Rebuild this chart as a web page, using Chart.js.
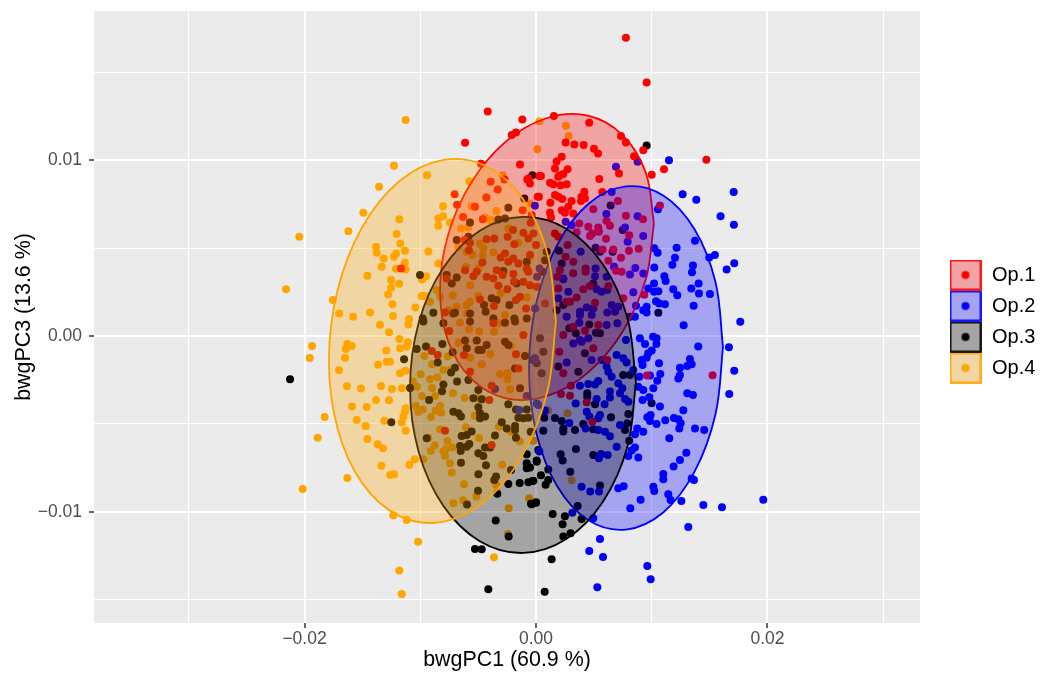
<!DOCTYPE html>
<html>
<head>
<meta charset="utf-8">
<title>bwgPCA</title>
<style>
  html, body { margin: 0; padding: 0; background: #fff; }
  canvas { display: block; }
</style>
<script src="https://cdn.jsdelivr.net/npm/chart.js@4"></script>
</head>
<body>
<canvas id="pca" width="1040" height="675"></canvas>
<script>
const UNIT = 1e-4;

const groupNames = ['Op.1', 'Op.2', 'Op.3', 'Op.4'];
const groupColors = ['#ff0000', '#0000ff', '#000000', '#ffa500'];
const groupFills = ['rgba(255,0,0,0.3)', 'rgba(0,0,255,0.3)', 'rgba(0,0,0,0.3)', 'rgba(255,165,0,0.3)'];
// which group sits on top of which among the dots: red over blue over black over orange
const pointOrder = [20, 21, 22, 23];

const xTickValues = [-0.03, -0.02, -0.01, 0, 0.01, 0.02, 0.03];
const xTickLabels = ['', '\u22120.02', '', '0.00', '', '0.02', ''];
const yTickValues = [-0.015, -0.01, -0.005, 0, 0.005, 0.01, 0.015];
const yTickLabels = ['', '\u22120.01', '', '0.00', '', '0.01', ''];

const op1Points = [
  [-116.6,38.4],[-41.7,127.6],[-11.8,123.1],[-17.3,115.7],[-21,114.3],[-61.3,109.8],[-47.5,97.9],[-13.8,97.5],[-6.6,89.5],[-5.2,86.7],
  [-7.5,89],[2.9,90.9],[1.5,79.1],[-39.2,87.6],[-33.1,83.3],[-27.3,89],[-42.9,78.7],[-70.3,80.6],[-68.2,74.6],[-52.7,73.4],
  [-63,67.6],[-46,66.4],[-11.5,71.4],[-3.7,68.7],[-4.6,64.3],[-42.6,55],[-36,55.4],[-19.8,60.2],[-24.5,56.4],[-10.9,58.7],
  [-6.6,55.4],[-2.3,58.3],[-18.7,52.2],[0,51.7],[-57.9,48.8],[-61.9,54.5],[-57,53],[-26.8,46.9],[-30.5,44.6],[-19.6,44.1],
  [-23.9,42.2],[-15.2,41.2],[-46.3,41.8],[-5.2,46],[-8,38.4],[-6.6,36.5],[-34,37.4],[-28.8,34.6],[-42.6,33.7],[-36.8,32.7],
  [-19.6,35.2],[-19,30.8],[-10.9,30.8],[-5.2,28.9],[-32.5,28.5],[-24.7,26.6],[0.6,28],[-61.3,37.4],[-54.1,34],[-51.2,36.5],
  [-77.2,32.7],[-48.4,20.8],[-36.3,17],[-17.3,20.4],[-8.6,15.7],[-78.6,13.4],[-13.8,22.3],[77.7,169.5],[95.6,144.1],[15.5,125],
  [46,121.2],[73.4,113.6],[77.7,110],[25.6,110],[33.1,108.9],[41.2,108.5],[50.1,106.4],[53.6,103.7],[92.7,105.6],[84.7,102.2],
  [22.2,101.8],[17.8,99.2],[147.2,100.1],[110.6,94.8],[27.3,94.8],[16.4,95.2],[71.7,92.4],[100,91.6],[4.3,90.9],[20.7,91.4],
  [23.6,92],[19.3,90.5],[54.7,89.2],[12.1,87.1],[15,86.3],[21.3,85.7],[26.5,86.3],[2.6,79.1],[57.3,81.9],[16.4,80.1],
  [19.3,79.1],[22.7,77.8],[41.8,82],[39.4,79.1],[42.3,78.2],[38.9,76.7],[30.8,76.7],[27.9,73.4],[22.2,71.5],[32.2,69.6],
  [25,70],[12.4,75.7],[12.1,70],[13,67.4],[70.8,76.7],[107.1,74.2],[49.5,72.1],[77.7,68.3],[92.4,66.4],[37.4,64],
  [45.2,62.1],[53.8,61.7],[54.4,59.2],[46.6,56.8],[48.7,58.3],[61,65.3],[63.9,62.6],[35.1,58.9],[80.6,57.3],[60.5,55.3],
  [27.3,51.7],[57.6,49.2],[66.8,49.2],[80.3,48.4],[88.7,49.6],[25.6,45],[16.4,58.3],[19.3,56.4],[73.4,44.5],[62.5,42.8],
  [32.2,42.2],[69.1,37.1],[74,36.5],[42.9,38.4],[42.9,36.5],[20.7,37.4],[32.2,35.6],[18.4,33.7],[40.9,26.5],[46.6,28.4],
  [62.5,28.4],[35.1,21.9],[26.5,19.5],[29.4,19.5],[51,18.9],[75.4,21.4],[93.6,23.4],[19.3,27],[7.8,18.5],[95.9,-22.5],
  [152.6,-22.3],[61.6,-13.6],[43.8,-37.7],[48.7,-48.7],[29.4,-33.9],[21.6,-32.9],[30.2,-28.2],[23.6,-21.2],[23.6,0.6],[42.3,3],
  [53.8,6.3],[49.5,-7],[32.2,5.3],[20.1,-8.9],[-78.6,-53.8],[-38.3,-61.9],[-40.3,-36.4],[-38.3,-28.2],[-15.2,-18.4],[-17.3,-10.4],
  [-57,-20.3],[-62.2,-10.8],[-74.9,2.8],[-90.1,-8.5],[-84.9,-10.8],[-10.9,0.6],[-36.8,7.2]
];

const op2Points = [
  [114.9,99.9],[126.7,80.6],[138.5,77.4],[170.8,81.8],[105.4,72.1],[159.5,68.1],[171,63.2],[137.4,54.1],[121.5,50.1],[102.2,49.8],
  [105.1,47.3],[120.1,44.5],[117.8,40.5],[149.7,44.6],[154.6,46],[171.3,41.4],[164.7,37.8],[135.6,40.1],[134.8,36.3],[102.2,39],
  [110.9,34],[112,31.2],[140.5,29.9],[134.2,27],[102,29.9],[97,27],[102,25.1],[105.7,25.5],[118.6,26.5],[122.1,23.2],
  [140.8,24.2],[150.3,23.8],[103.7,19.8],[106.5,18.5],[111.4,18.1],[136.2,17.2],[86.4,17.2],[92.7,14.7],[95.6,16.6],[95.6,13.4],
  [85.5,10.9],[176.5,8.1],[69.1,96.2],[87.8,99],[65.4,81.9],[-0.9,74],[60.8,69.3],[87.8,68.1],[25.6,64.9],[30.8,63],
  [76.9,61.7],[92.7,56.9],[79.2,53.5],[38.6,47.9],[67.4,39.3],[85.8,38.6],[81.2,35],[92.7,35.5],[51.5,38.4],[51,34],
  [61,33.7],[23.6,32.7],[52.4,26.5],[56.7,25.1],[61.6,26.1],[27.9,25.1],[84.1,24.8],[19.3,21.4],[38,13.8],[43.8,16.2],
  [49.5,15.7],[38,11.9],[65.4,17.6],[61.6,13.4],[68.2,13.8],[71.1,16.6],[26.5,10.9],[48.1,11.9],[127.6,6.1],[140.2,-5.9],
  [166.7,-6.4],[101.1,-0.4],[104.2,-1.3],[104,-4.5],[94.2,-4.5],[89.8,-1.3],[100,-8.3],[97,-9.8],[95.6,-12.3],[106.3,-15.5],
  [92.1,-16.5],[91.3,-13.6],[133,-13],[134.5,-16.1],[130.7,-17],[124.4,-18],[171.3,-19.7],[107.4,-21.6],[104.8,-25.4],[124.4,-22.1],
  [123,-24.2],[89.3,-23.1],[98.5,-22.5],[101.4,-29.7],[88.4,-28.8],[92.7,-30.7],[130.7,-32.6],[135.6,-33.5],[167,-33],[92.1,-36.4],
  [97.9,-34.8],[107.1,-40],[127.3,-42.2],[96.2,-46.2],[99,-44.9],[98.5,-48.3],[104.2,-50],[111.7,-47.9],[119.2,-46.6],[123,-47.3],
  [125,-49.6],[123.8,-52.5],[137.4,-52.5],[145.4,-53.4],[115.2,-58.1],[92.7,-54.4],[87.5,-52.5],[85.5,-55.9],[85.5,-63.3],[82.6,-65.1],
  [79.8,-68.2],[88.4,-69.1],[129.9,-66.3],[124.4,-70.4],[118.9,-74.2],[110,-78.4],[110,-81.4],[134.5,-81],[136.5,-81.8],[101.4,-85.6],
  [102.2,-88.1],[114.3,-90],[116.3,-93.2],[125.6,-93.7],[90.4,-93],[81.5,-97.9],[71.1,-86.5],[75.7,-85.4],[144.6,-96],[160.7,-97.3],
  [196.4,-93],[131.6,-108.5],[49.5,-103.6],[31.4,-100.4],[55.3,-115.3],[46,-122.2],[57.9,-125.6],[96.2,-130.7],[99.1,-138.2],[53,-142.8],
  [39.4,-85.6],[46.9,-88.3],[54.4,-88.3],[69.7,-62.9],[61.9,-67.6],[54.4,-69.5],[56.1,-67],[63.9,-57],[59.6,-54.4],[53.8,-53.4],
  [42.9,-52.5],[72.6,-50.6],[28.8,-49.4],[55.3,-44.9],[53.8,-46.8],[43.8,-43],[46.1,-45.8],[59.3,-38.8],[52.4,-35.8],[34.3,-38.3],
  [7.8,-42.4],[38,-28.2],[45.2,-27.3],[51,-27.5],[53.8,-25.6],[63.9,-31.6],[63.9,-35],[72.6,-32.6],[74.6,-29.7],[76.9,-35.8],
  [79.8,-37.3],[71.1,-26.9],[61,-17.4],[62.5,-20.3],[65.4,-23.1],[69.7,-10.8],[75.4,-12.7],[78.3,-15],[77.7,-2.3],[84.1,-19.3],
  [2.9,-65.7],[38,-2.3],[32.2,-4.2],[26.5,-15],[45.2,-1.3],[48.1,-13.6],[56.7,-13.6],[61,6.3],[70.3,7.2],[37.4,7.6],
  [39.4,-3.2],[2,-39.2],[-35.4,-30.1],[-8,-34.1],[0.6,-38.3],[-0.8,-13.2],[1,33.7],[3.1,38.4],[-0.8,15.7],[-14.4,-42]
];

const op3Points = [
  [-57,64.5],[-68.5,54.5],[-58.4,56.4],[-23.9,72.9],[-26.8,66.8],[-32.5,66.2],[-3.1,91.4],[-10.1,78.2],[-100.2,34.6],[-77.2,34.6],
  [-68.5,33.3],[-72.8,29.9],[-28.2,37],[-8,42.2],[-16.7,29.9],[-38.3,21.4],[-34,20.4],[-44.9,17.6],[-43.5,13.8],[-23,17.6],
  [-71.4,12.8],[-70,13.2],[-57,12.8],[-88.7,13.2],[-97.9,10],[-36.8,10],[-18.7,10],[-8,10],[95.6,108.3],[64.5,74.2],
  [74.9,60.2],[51.5,50.1],[55.3,47.9],[66.2,47.9],[19.9,48.4],[22.2,41.2],[9.2,47.9],[7.8,43.1],[23.6,32.2],[49.5,29.9],
  [23.6,17.6],[17.8,14.7],[105.7,13.2],[81.2,10.9],[5.7,36.5],[-212.5,-24.6],[-114,-13.2],[-108.8,-29.5],[-125,-49],[-95,-6],
  [-103,-7.4],[-84.9,-15.1],[-80.9,-4.5],[-72,-9.3],[-70,-18],[-73.4,-20.8],[-80,-27.5],[-81.2,-31.4],[-68.2,-25.9],[-92.4,-36.4],
  [-58.4,-25],[-49.8,-30.7],[-46.9,-36],[-54.1,-35.4],[-49.8,-40.5],[-48.4,-43.9],[-71.4,-43],[-67,-43.9],[-64.8,-45.8],[-44,-45.8],
  [-48.4,-46.8],[-23.9,-38.8],[-17.3,-41.7],[-8,-41.7],[-6.6,-46.4],[-15.2,-46.4],[-10.9,-46.8],[-29.6,-49],[-18.1,-51.1],[-25.3,-52.5],
  [-18.1,-53.4],[-4.6,-54.4],[-35.4,-56.6],[-17.3,-57.8],[-64.2,-56.8],[-59.9,-56.2],[-55.6,-54.3],[-94.4,-58.1],[-65.6,-62.5],[-57.6,-61.4],
  [-65.1,-65.3],[-59.9,-62.9],[-44,-63.4],[-39.7,-63.4],[-49.8,-66.7],[-45.5,-68.2],[-64.8,-72],[-43.2,-73.5],[-49.8,-78.6],[-34.5,-79.9],
  [-36,-81.8],[-21.6,-76.1],[-50.1,-87.9],[-59.6,-95.8],[2,-64.8],[-8,-67.2],[-8,-72.3],[-8,-75.2],[0.6,-71.4],[-23.9,-84.1],
  [-14.1,-83.5],[-6.6,-83.1],[-2.3,-82.2],[-33.4,-89.6],[-3.7,-95.6],[0,-94.5],[-34.8,-104.9],[-23.6,-114],[-52.7,-121],[-46.9,-121.2],
  [-41.2,-143.9],[-51.2,-2.6],[-42.6,-5.1],[-46.9,-7.9],[-61.3,-2.6],[-59.9,-7],[-49.8,-7.9],[-26.8,-3.2],[-23.9,-5.1],[-9.5,-11.4],
  [-18.1,-18.4],[-2.3,-13.6],[-13.8,-29.7],[-57,8.2],[-26.8,7.6],[-18.1,8.2],[-97.3,8.2],[-80,7.2],[6.3,-53.8],[7.2,-46.4],
  [16.4,-46.6],[22.2,-48.3],[23.6,-54.3],[23.6,-52.5],[33.7,-53.4],[40.9,-50],[49.5,-53],[64.8,-46.2],[51,-38.8],[44.3,-32.6],
  [44.3,-34.5],[79.8,-44.3],[78.9,-49.6],[76.9,-53.4],[99.9,-38.2],[75.4,-22.2],[81.2,-22.2],[80.6,-59.5],[34.5,-64.2],[21.3,-67.2],
  [23,-70.8],[49.5,-67.6],[29.6,-77.1],[55.3,-85],[36,-96.6],[14.4,-101.1],[25,-102.5],[23,-107],[39.4,-104],[29.9,-112.1],
  [23.6,-114],[13.5,-126.9],[7.5,-145.3],[10.6,-75.8],[4.3,-79.2],[8.3,-84.6],[10.6,-81.8],[0.6,-70.8],[-5.2,-74.8],[-2.9,-82.4],
  [0,-94.7],[-4.3,-95.4],[28.8,4.4],[46,6.5],[55.3,1.5],[51.8,1.9],[34.5,1.5],[42.3,-9.8],[36.6,-20.3],[19.3,-17.4],
  [0.6,-15.5],[4.9,-21.2],[6.3,-8.9],[-0.9,-12.7],[3.4,-1.3]
];

const op4Points = [
  [-112.6,122.7],[-122.7,96.7],[-135.6,84.8],[-94.2,91.4],[-149.2,70],[-162.1,59.6],[-204.5,56.4],[-216,26.6],[-175.6,20.4],[-170,12.8],
  [-158,10.9],[-143.4,13.4],[-123.5,11.3],[-109.7,9.6],[-104.2,16.2],[-124,18.1],[-127.8,23.6],[-125.2,27.4],[-125.2,31.8],[-118.3,29.7],
  [-145.7,34.2],[-133.3,39.3],[-131.6,44.1],[-138.2,50.7],[-137.6,47.3],[-122.7,45],[-120.9,46.9],[-113.2,48.4],[-117.2,52.6],[-120.4,57.9],
  [-118.1,66.4],[-121,38.2],[-113.2,41.8],[-112.6,37.8],[-93,48],[-84.4,41.2],[-95,34],[-98.5,32.1],[-98.8,22.7],[-95.9,22.7],
  [-80.3,73.8],[-80.3,68.1],[-84.4,66.8],[-84.4,62.6],[-74.3,64.5],[-57.6,88],[-64.8,61.1],[-58.4,61.7],[-55.8,73.8],[-44,67.4],
  [-39.2,65.9],[-34.2,71],[-28.8,91.4],[1.2,106.2],[3,122.1],[-193.5,-5.7],[-195.5,-12.5],[-163,-4.5],[-159.2,-5.7],[-164.4,-7.4],
  [-165,-12.3],[-170.2,-19.5],[-163.3,-28.6],[-151.2,-29.9],[-133.9,-28.4],[-124.4,-30.1],[-115.8,-29.7],[-138.2,-36.4],[-127,-36.5],[-159,-40],
  [-146.3,-40.3],[-182.6,-46],[-154.9,-47.7],[-147.1,-51.1],[-131,-48.1],[-112.6,-41.1],[-113.2,-43],[-114.6,-45.8],[-116,-49.2],[-112.6,-53.8],
  [-188.6,-57.8],[-145.7,-58.5],[-136.8,-61.5],[-132.2,-63.8],[-133.6,-73.7],[-126,-79],[-122.7,-78.6],[-109.4,-73.1],[-104.8,-70.1],[-97.3,-70.1],
  [-163,-80.7],[-201.6,-86.9],[-123.3,-101.9],[-111.7,-104.5],[-101.9,-116.9],[-118.1,-133.3],[-116,-146.6],[-36.3,-125.8],[-127,2.1],[-134.8,6.4],
  [-129.3,-8.3],[-118,-1.7],[-110.6,-3.6],[-111.7,-6],[-117.5,-7],[-110.3,6.5],[-136.5,-16.3],[-129,-14.6],[-126.1,-14.6],[-117.5,-21.2],
  [-112.6,-19.7],[-96.5,-11.4],[-89.8,-16.1],[-99.6,-21.8],[-91.6,-24.6],[-85.2,-23.5],[-80,-19.3],[-74.3,-19.3],[-76.3,-11.7],[-89.8,-29.5],
  [-102.8,-28.8],[-106.5,-25.9],[-98.5,-34.1],[-87.2,-34.1],[-71.7,-32.6],[-61.6,-35.2],[-103.7,-39.8],[-101.6,-43],[-97.9,-41.7],[-90.7,-46],
  [-86.7,-42.4],[-82.9,-39.8],[-82,-43.5],[-53,-45.3],[-82.9,-53],[-60.5,-51.9],[-49.2,-57.9],[-93,-57.9],[-87.5,-62.1],[-91,-65.3],
  [-76.6,-59.7],[-72.2,-63.3],[-80,-65.7],[-78,-64.4],[-78.6,-68.2],[-74.3,-72.3],[-72.8,-77.6],[-62.2,-84.3],[-51.5,-91.3],[-62.8,-93.4],
  [-71.4,-95.1],[-29.1,-73.1],[-34,-85],[-32,-51.5],[-21.6,-54.3],[-14,-59.8],[-6,-92.2],[-23.6,-97.9],[-24.2,-112.5],[-65.6,7.6],
  [-57.9,3.8],[-66.8,-3.8],[-57,-12.3],[-46.9,-16.1],[-39.7,-10.2],[-31.1,-21.6],[-24.7,-21.2],[-24.7,-24.6],[-22.4,-30.3],[-36.3,2.5],
  [-48.9,2.5],[-31.7,7.2],[-21.9,-5.7],[-49.8,-35.4],[-46.6,-35.8],[-49.8,38.4],[-60.5,39.3],[-57,28.9],[-36.8,47.5],[-45.5,49.8],
  [-48.4,52.6],[-55,46],[-46,45.6],[-67,50.7],[-59.9,47.9],[-72,23.2],[-85.8,26.1],[-82.9,22.3],[-91.6,19.5],[-68.5,16.6],
  [-75.7,14.7],[-59.9,17.6],[-57,19.5],[-49.8,22.7],[-30.5,24.2],[-8,21.9],[-26.8,11.9],[-23.9,61.1],[-15.2,53],[-59.9,12.8],
  [25.9,119.5],[28.2,113.6],[-5.2,75.3],[27.3,-43.9],[30.8,-82],[10.6,-42.4],[-2.3,-59.5]
];

// ellipse outlines traced by eye, going round anticlockwise from the right side
const op1Outline = [
  [101.9,63.9],[94.9,92.8],[74.8,114.2],[44.9,125.2],[9.5,123.9],[-25.9,110.6],[-55.8,87.4],[-75.9,57.6],
  [-82.9,25.9],[-75.9,-3],[-55.8,-24.4],[-25.9,-35.4],[9.5,-34.1],[44.9,-20.8],[74.8,2.4],[94.9,32.2],[101.9,63.9]
];
const op2Outline = [
  [161.6,-6.4],[155.2,30.4],[137,60.7],[109.9,79.9],[77.8,85],[45.7,75.3],[18.6,52.1],[0.4,19.2],
  [-6,-18.6],[0.4,-55.4],[18.6,-85.7],[45.7,-104.9],[77.8,-110],[109.9,-100.3],[137,-77.1],[155.2,-44.2],[161.6,-6.4]
];
const op3Outline = [
  [86.4,-26.3],[79,10.2],[57.8,40.8],[26.2,61],[-11.2,67.7],[-48.6,59.8],[-80.2,38.6],[-101.4,7.4],
  [-108.8,-29.3],[-101.4,-65.8],[-80.2,-96.4],[-48.6,-116.6],[-11.2,-123.3],[26.2,-115.4],[57.8,-94.2],[79,-63],[86.4,-26.3]
];
const op4Outline = [
  [17.3,8.6],[9.8,47.1],[-11.4,78],[-43.2,96.6],[-80.8,100],[-118.4,87.8],[-150.2,61.8],[-171.4,26.1],
  [-178.9,-14.2],[-171.4,-52.7],[-150.2,-83.6],[-118.4,-102.2],[-80.8,-105.6],[-43.2,-93.4],[-11.4,-67.4],[9.8,-31.7],[17.3,8.6]
];

const groupPoints = [op1Points, op2Points, op3Points, op4Points];
const groupOutlines = [op1Outline, op2Outline, op3Outline, op4Outline];

function toXY(list) {
    return list.map(p => ({ x: p[0] * UNIT, y: p[1] * UNIT }));
}

const datasets = [];
groupNames.forEach((name, i) => {
    datasets.push({
        label: name,
        data: toXY(groupPoints[i]),
        backgroundColor: groupColors[i],
        borderWidth: 0,
        pointRadius: 4,
        order: pointOrder[i]
    });
});
// ellipses go over the points, like in the original
groupNames.forEach((name, i) => {
    datasets.push({
        label: name + ' ellipse',
        data: toXY(groupOutlines[i]),
        showLine: true,
        tension: 0.35,
        fill: 'shape',
        backgroundColor: groupFills[i],
        borderColor: groupColors[i],
        borderWidth: 1.8,
        pointRadius: 0,
        order: 10 - i
    });
});

// legend key: tinted square with the dot in it
function legendKey(i) {
    const c = document.createElement('canvas');
    c.width = 32;
    c.height = 31;
    const g = c.getContext('2d');
    g.fillStyle = '#ebebeb';
    g.fillRect(1, 1, 30, 29);
    g.fillStyle = groupFills[i];
    g.fillRect(1, 1, 30, 29);
    g.strokeStyle = groupColors[i];
    g.lineWidth = 1.8;
    g.strokeRect(1, 1, 30, 29);
    g.fillStyle = groupColors[i];
    g.beginPath();
    g.arc(16, 15.5, 4, 0, Math.PI * 2);
    g.fill();
    return c;
}

const panel = {
    id: 'panel',
    beforeLayout(chart) {
        const legend = chart.legend;
        if (!legend.fitPatched) {
            const fit = legend.fit;
            legend.fit = function () {
                fit.call(this);
                this.width = 120;
            };
            legend.fitPatched = true;
        }
    },
    afterLayout(chart) {
        chart.legend.left = 938;
        chart.legend.top = 254;
    },
    beforeDraw(chart) {
        const a = chart.chartArea;
        const ctx = chart.ctx;
        ctx.save();
        ctx.fillStyle = '#ebebeb';
        ctx.fillRect(a.left, a.top, a.right - a.left, a.bottom - a.top);
        ctx.restore();
    }
};

function axisOptions(min, max, values, labels, title, padTitle, padTicks, size) {
    return {
        type: 'linear',
        min: min,
        max: max,
        afterBuildTicks: axis => { axis.ticks = values.map(v => ({ value: v })); },
        afterFit: s => {
            size(s);
            // no extra room for the outer tick labels, the panel edges are fixed
            s.paddingTop = 0;
            s.paddingBottom = 0;
            s.paddingLeft = 0;
            s.paddingRight = 0;
        },
        border: { display: false },
        grid: {
            color: '#ffffff',
            lineWidth: ctx => (labels[ctx.index] ? 2 : 1),
            drawTicks: true,
            tickLength: 5,
            tickColor: ctx => (labels[ctx.index] ? '#333333' : 'rgba(0,0,0,0)'),
            tickWidth: 1.5
        },
        ticks: {
            autoSkip: false,
            maxRotation: 0,
            minRotation: 0,
            padding: padTicks,
            color: '#4d4d4d',
            font: { family: 'Liberation Sans', size: 17.5 },
            callback: (value, index) => labels[index]
        },
        title: {
            display: true,
            text: title,
            color: '#000000',
            padding: padTitle,
            font: { family: 'Liberation Sans', size: 21.4 }
        }
    };
}

new Chart(document.getElementById('pca'), {
    type: 'scatter',
    data: { datasets: datasets },
    plugins: [panel],
    options: {
        responsive: false,
        animation: false,
        layout: { padding: { top: 11 } },
        plugins: {
            tooltip: { enabled: false },
            legend: {
                position: 'right',
                align: 'start',
                labels: {
                    usePointStyle: true,
                    pointStyleWidth: 33,
                    padding: 11,
                    color: '#000000',
                    font: { family: 'Liberation Sans', size: 20 },
                    generateLabels: () => groupNames.map((name, i) => ({
                        text: name,
                        pointStyle: legendKey(i),
                        fontColor: '#000000',
                        lineWidth: 0,
                        hidden: false,
                        datasetIndex: i
                    }))
                }
            }
        },
        scales: {
            x: axisOptions(-0.03819, 0.03318, xTickValues, xTickLabels, 'bwgPC1 (60.9 %)', 2, 1, s => { s.height = 52; }),
            y: axisOptions(-0.01631, 0.01847, yTickValues, yTickLabels, 'bwgPC3 (13.6 %)', 11, 7, s => { s.width = 94; })
        }
    }
});
</script>
</body>
</html>
